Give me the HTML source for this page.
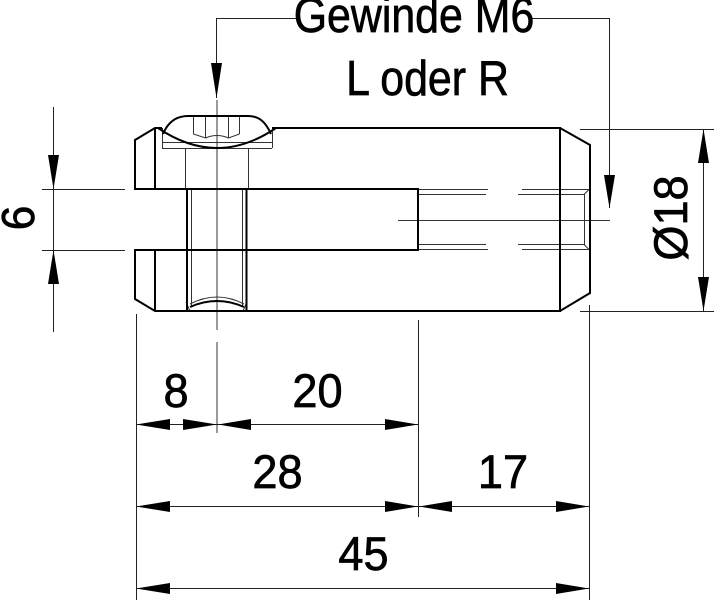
<!DOCTYPE html>
<html>
<head>
<meta charset="utf-8">
<style>
html,body{margin:0;padding:0;background:#fff;}
svg{display:block;}
text{font-family:"Liberation Sans",Arial,sans-serif;fill:#000;stroke:#000;stroke-width:0.7px;}
</style>
</head>
<body>
<svg width="714" height="600" viewBox="0 0 714 600" xmlns="http://www.w3.org/2000/svg">
<rect width="714" height="600" fill="#fff"/>

<!-- thin construction / hidden lines -->
<g stroke="#333" stroke-width="1" fill="none">
  <line x1="398" y1="220.5" x2="610" y2="220.5"/>
  <line x1="217" y1="100" x2="217" y2="330"/>
  <line x1="217" y1="342" x2="217" y2="433"/>
  <line x1="418" y1="189.5" x2="488" y2="189.5"/>
  <line x1="418" y1="194.5" x2="486" y2="194.5"/>
  <line x1="522" y1="189.5" x2="589" y2="189.5"/>
  <line x1="518" y1="194.5" x2="584" y2="194.5"/>
  <line x1="418" y1="244.5" x2="486" y2="244.5"/>
  <line x1="418" y1="249.5" x2="488" y2="249.5"/>
  <line x1="518" y1="244.5" x2="584" y2="244.5"/>
  <line x1="522" y1="249.5" x2="589" y2="249.5"/>
  <line x1="584.5" y1="194" x2="584.5" y2="245"/>
  <line x1="584" y1="194.5" x2="589" y2="189.5"/>
  <line x1="584" y1="244.5" x2="589" y2="249.5"/>
  <line x1="162.5" y1="128" x2="162.5" y2="148"/>
  <line x1="272.5" y1="128" x2="272.5" y2="148"/>
  <line x1="162" y1="142.5" x2="272" y2="142.5"/>
  <line x1="162" y1="148.5" x2="272" y2="148.5"/>
  <line x1="193.5" y1="116" x2="193.5" y2="134"/>
  <line x1="205.5" y1="116" x2="205.5" y2="138"/>
  <line x1="228.5" y1="116" x2="228.5" y2="138"/>
  <line x1="239.5" y1="116" x2="239.5" y2="134"/>
  <path d="M193.5,134 L205.5,138 Q217,133 228.5,138 L239.5,134"/>
  <line x1="185.5" y1="148" x2="185.5" y2="189"/>
  <line x1="248.5" y1="148" x2="248.5" y2="189"/>
  <line x1="191.5" y1="189" x2="191.5" y2="306"/>
  <line x1="242.5" y1="189" x2="242.5" y2="306"/>
  <path d="M190,304 Q217,290 244,304"/>
  <line x1="186" y1="302" x2="190" y2="311"/>
  <line x1="247" y1="302" x2="243" y2="311"/>
</g>

<!-- body outline (thick) -->
<g stroke="#000" stroke-width="2" fill="none" stroke-linejoin="miter">
  <polyline points="135,189 135,140 155,128 162,128"/>
  <line x1="155" y1="128" x2="155" y2="189"/>
  <line x1="134" y1="189" x2="418" y2="189"/>
  <line x1="272" y1="128" x2="560" y2="128"/>
  <polyline points="135,250 135,299 155,311 560,311"/>
  <line x1="155" y1="250" x2="155" y2="311"/>
  <line x1="134" y1="250" x2="418" y2="250"/>
  <line x1="418" y1="188" x2="418" y2="251"/>
  <line x1="560" y1="127" x2="560" y2="312"/>
  <polyline points="560,128 590,145 590,293 560,311"/>
  <path d="M163,134 C168,122 176,116 188,116 L248,116 C260,116 266,123 271,134"/>
  <path d="M158,128 Q217,168 276,128"/>
  <line x1="187" y1="189" x2="187" y2="311"/>
  <line x1="246.5" y1="189" x2="246.5" y2="311"/>
  <path d="M190,307 Q217,295 244,307"/>
</g>

<!-- dimension and extension lines -->
<g stroke="#222" stroke-width="1" fill="none">
  <line x1="53.5" y1="107" x2="53.5" y2="332"/>
  <line x1="42" y1="189.5" x2="125" y2="189.5"/>
  <line x1="42" y1="250.5" x2="125" y2="250.5"/>
  <line x1="703.5" y1="129" x2="703.5" y2="311"/>
  <line x1="580" y1="129.5" x2="714" y2="129.5"/>
  <line x1="580" y1="311.5" x2="714" y2="311.5"/>
  <polyline points="216.5,98 216.5,18.5 296,18.5"/>
  <polyline points="530,18.5 609.5,18.5 609.5,208"/>
  <line x1="136.5" y1="314" x2="136.5" y2="600"/>
  <line x1="418.5" y1="320" x2="418.5" y2="517"/>
  <line x1="589.5" y1="305" x2="589.5" y2="600"/>
  <line x1="136" y1="424.5" x2="418" y2="424.5"/>
  <line x1="136" y1="506.5" x2="589" y2="506.5"/>
  <line x1="136" y1="588.5" x2="589" y2="588.5"/>
</g>

<!-- arrowheads -->
<g fill="#000" stroke="none">
  <polygon points="53.5,189 48,155 59,155"/>
  <polygon points="53.5,250 48,284 59,284"/>
  <polygon points="703.5,129 698,163 709,163"/>
  <polygon points="703.5,311 698,277 709,277"/>
  <polygon points="216.5,98 211,63 222,63"/>
  <polygon points="609.5,208 604,175 615,175"/>
  <polygon points="136,424.5 170,419 170,430"/>
  <polygon points="217,424.5 183,419 183,430"/>
  <polygon points="218,424.5 251,419 251,430"/>
  <polygon points="418,424.5 385,419 385,430"/>
  <polygon points="136,506.5 170,501 170,512"/>
  <polygon points="418,506.5 385,501 385,512"/>
  <polygon points="419,506.5 452,501 452,512"/>
  <polygon points="589,506.5 556,501 556,512"/>
  <polygon points="136,588.5 170,583 170,594"/>
  <polygon points="589,588.5 556,583 556,594"/>
</g>

<!-- texts -->
<g text-anchor="middle">
  <text transform="translate(414,32) scale(0.875,1)" font-size="49">Gewinde M6</text>
  <text transform="translate(427.5,95) scale(0.875,1)" font-size="49">L oder R</text>
  <text transform="translate(176,407) scale(0.96,1)" font-size="47">8</text>
  <text transform="translate(317.5,407) scale(0.96,1)" font-size="47">20</text>
  <text transform="translate(277.5,488) scale(0.96,1)" font-size="47">28</text>
  <text transform="translate(503,488) scale(0.96,1)" font-size="47">17</text>
  <text transform="translate(363.5,570) scale(0.96,1)" font-size="47">45</text>
  <text transform="translate(34,218) rotate(-90) scale(0.96,1)" font-size="46">6</text>
  <text transform="translate(687,218) rotate(-90) scale(0.96,1)" font-size="47">Ø18</text>
</g>
</svg>
</body>
</html>
